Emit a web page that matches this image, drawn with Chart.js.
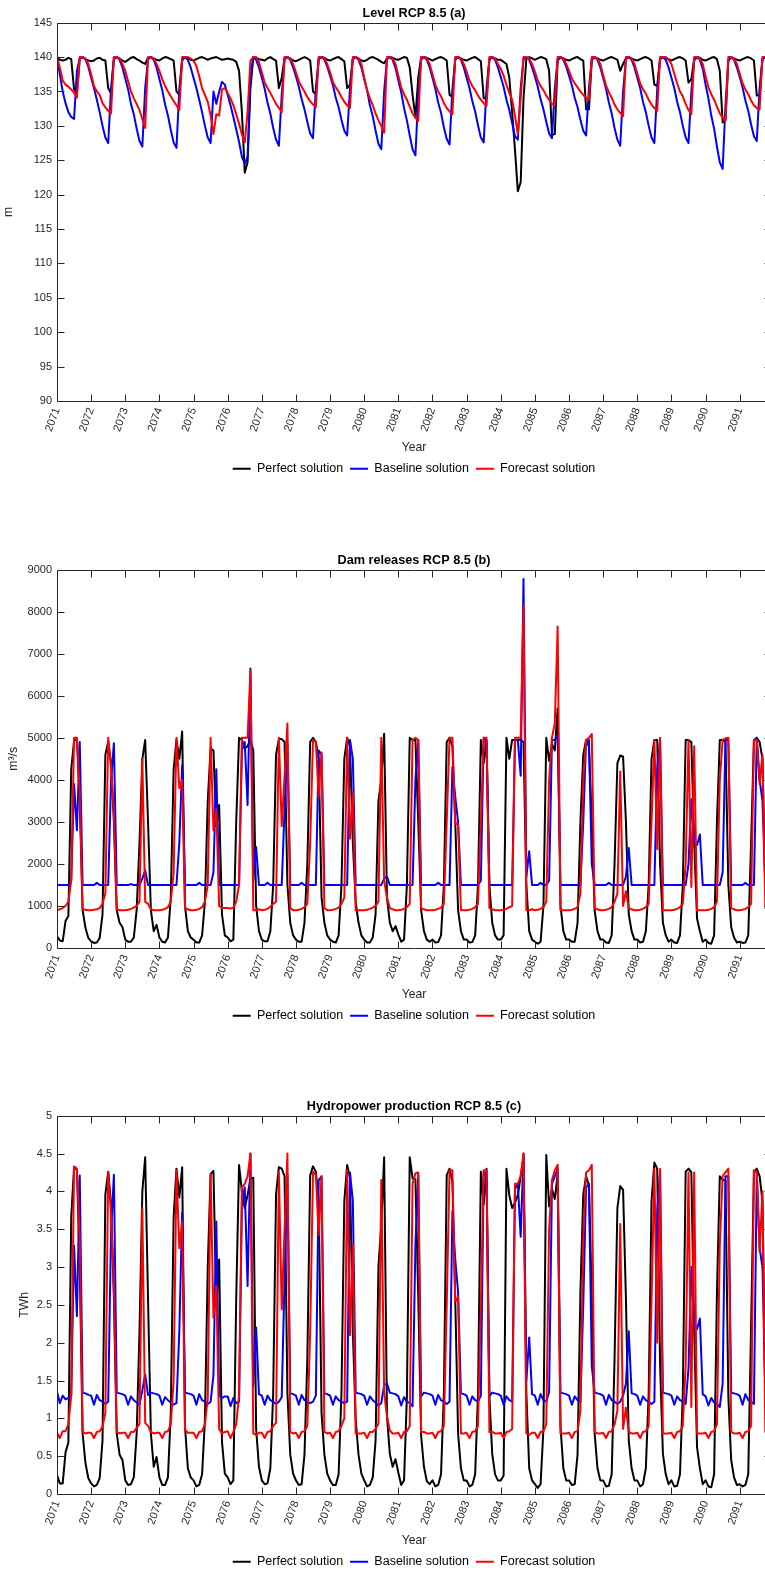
<!DOCTYPE html>
<html>
<head>
<meta charset="utf-8">
<script src="https://cdn.jsdelivr.net/npm/chart.js@4.4.0/dist/chart.umd.min.js"></script>
<style>
  html, body { margin: 0; padding: 0; background: #fff; overflow: hidden; width: 765px; height: 1570px; }
  .panel { position: absolute; left: 0; }
</style>
</head>
<body>
<div class="panel" style="top:0px"><canvas id="chartA" width="780" height="485"></canvas></div>
<div class="panel" style="top:547px"><canvas id="chartB" width="780" height="485"></canvas></div>
<div class="panel" style="top:1093px"><canvas id="chartC" width="780" height="485"></canvas></div>
<script>
// monthly values, Jan 2071 .. Dec 2091, one row per year
const years = [2071, 2072, 2073, 2074, 2075, 2076, 2077, 2078, 2079, 2080, 2081,
               2082, 2083, 2084, 2085, 2086, 2087, 2088, 2089, 2090, 2091];

// level (m)
const levelPerfect = [
  140, 139.6, 139.5, 139.6, 139.9, 139.7, 135.3, 134.8, 139.8, 140, 139.7, 139.5,
  139.4, 139.5, 139.8, 139.9, 139.6, 139.5, 135.5, 134.7, 139.9, 140, 139.8, 139.5,
  139.3, 139.6, 139.9, 140, 139.7, 139.5, 139.2, 139.0, 139.9, 140, 139.8, 139.6,
  139.5, 139.8, 140, 139.9, 139.7, 139.5, 135.0, 134.5, 139.5, 140, 139.9, 139.6,
  139.5, 139.7, 139.9, 140, 139.8, 139.6, 139.8, 139.9, 140, 139.8, 139.6, 139.7,
  139.8, 139.7, 139.6, 139.3, 138.0, 132.0, 123.2, 124.7, 135.5, 140, 139.9, 139.7,
  139.6, 139.5, 139.8, 140, 139.7, 139.5, 135.5, 137.0, 139.9, 140, 139.8, 139.5,
  139.4, 139.6, 139.8, 140, 139.8, 139.5, 135.0, 134.6, 139.8, 140, 139.9, 139.6,
  139.5, 139.7, 139.9, 140, 139.7, 139.4, 135.5, 136.0, 139.8, 140, 139.8, 139.5,
  139.4, 139.6, 139.9, 140, 139.8, 139.6, 139.3, 139.1, 139.8, 140, 139.9, 139.7,
  139.6, 139.8, 140, 139.9, 138.5, 134.5, 131.2, 137.0, 140, 140, 139.9, 139.7,
  139.5, 139.7, 139.9, 140, 139.8, 139.5, 134.5, 134.2, 139.7, 140, 139.8, 139.6,
  139.5, 139.7, 139.9, 140, 139.7, 139.4, 134.0, 134.0, 139.6, 140, 139.8, 139.6,
  139.6, 139.3, 139.0, 137.0, 132.0, 126.5, 120.5, 121.8, 134.0, 139.8, 140, 139.8,
  139.6, 139.8, 140, 139.9, 139.7, 138.0, 128.7, 128.8, 139.5, 140, 139.8, 139.6,
  139.5, 139.7, 139.9, 140, 139.7, 139.5, 132.4, 132.4, 139.6, 140, 139.8, 139.6,
  139.5, 139.7, 139.9, 140, 139.8, 139.6, 138.0, 139.0, 139.8, 140, 139.8, 139.6,
  139.5, 139.7, 139.9, 140, 139.8, 139.5, 136.0, 135.8, 139.7, 140, 139.9, 139.7,
  139.5, 139.7, 139.9, 140, 139.8, 139.5, 136.3, 136.8, 139.8, 140, 139.9, 139.6,
  139.5, 139.7, 139.9, 140, 139.7, 138.0, 130.5, 131.0, 139.5, 140, 139.8, 139.6,
  139.5, 139.7, 139.9, 140, 139.8, 139.5, 134.4, 134.5, 139.8, 140, 139.9, 139.7
];
const levelBaseline = [
  140, 137.5, 135.0, 133.3, 132.0, 131.3, 131.0, 138.0, 139.8, 140, 139.7, 138.6,
  137.0, 135.5, 133.8, 132.0, 130.0, 128.3, 127.5, 135.5, 139.7, 140, 139.6, 138.5,
  136.9, 135.3, 133.2, 131.7, 129.6, 127.8, 127.0, 135.5, 139.7, 140, 139.6, 138.5,
  136.8, 135.2, 133.1, 131.5, 129.4, 127.6, 126.8, 135.3, 139.7, 140, 139.6, 138.5,
  137.0, 135.5, 133.8, 132.0, 130.0, 128.3, 127.5, 135.0, 133.2, 135.0, 136.4, 136.0,
  134.5, 133.0, 131.3, 129.5, 127.7, 125.5, 124.5, 125.5, 137.0, 140, 139.6, 138.5,
  137.0, 135.4, 133.4, 131.8, 129.7, 128.0, 127.1, 134.5, 139.7, 140, 139.6, 138.5,
  137.2, 135.7, 133.9, 132.4, 130.6, 128.9, 128.2, 135.5, 139.7, 140, 139.6, 138.6,
  137.3, 135.9, 134.1, 132.7, 130.9, 129.3, 128.6, 135.5, 139.7, 140, 139.6, 138.5,
  136.8, 135.2, 133.0, 131.4, 129.3, 127.4, 126.6, 135.0, 139.7, 140, 139.6, 138.4,
  136.6, 134.9, 132.6, 130.8, 128.6, 126.6, 125.7, 134.5, 139.6, 140, 139.6, 138.5,
  137.0, 135.4, 133.4, 131.9, 129.8, 128.1, 127.3, 135.3, 139.7, 140, 139.6, 138.5,
  137.0, 135.5, 133.6, 132.1, 130.1, 128.3, 127.6, 135.5, 139.7, 140, 139.6, 138.5,
  137.1, 135.7, 133.8, 132.3, 130.4, 128.5, 128.0, 135.5, 139.7, 140, 139.6, 138.5,
  137.2, 135.7, 133.9, 132.4, 130.6, 128.9, 128.2, 135.5, 139.7, 140, 139.6, 138.6,
  137.3, 135.9, 134.1, 132.7, 130.9, 129.3, 128.6, 135.5, 139.7, 140, 139.6, 138.5,
  137.0, 135.4, 133.4, 131.8, 129.7, 128.0, 127.1, 135.0, 139.7, 140, 139.6, 138.5,
  137.0, 135.5, 133.5, 132.0, 130.0, 128.3, 127.5, 135.3, 139.7, 140, 139.6, 138.5,
  137.0, 135.5, 133.5, 132.0, 130.0, 128.3, 127.5, 135.0, 139.5, 140, 139.6, 138.3,
  136.0, 134.0, 131.5, 129.6, 127.0, 124.7, 123.75, 133.0, 139.5, 140, 139.6, 138.5,
  137.1, 135.6, 133.7, 132.2, 130.2, 128.5, 127.8, 135.5, 139.7, 140, 139.6, 138.5
];
const levelForecast = [
  140, 138.5, 136.6, 136.0, 135.7, 135.3, 134.8, 134.1, 140, 140, 139.8, 139.0,
  137.5, 135.8, 135.0, 134.5, 133.3, 132.7, 132.2, 131.8, 140, 140, 139.8, 139.0,
  138.0, 136.5, 135.0, 134.0, 133.2, 132.3, 131.0, 129.7, 140, 140, 139.8, 139.0,
  138.0, 136.8, 135.8, 135.0, 134.3, 133.6, 133.0, 132.3, 140, 140, 140, 139.8,
  139.5, 138.7, 137.2, 135.5, 134.5, 133.5, 131.5, 128.8, 131.7, 131.5, 135.3, 135.5,
  134.8, 134.0, 133.0, 131.7, 130.3, 128.8, 127.6, 132.0, 139.5, 140, 140, 139.3,
  137.8, 136.3, 135.5, 134.8, 134.0, 133.2, 132.6, 132.0, 140, 140, 139.8, 139.0,
  137.8, 136.5, 135.7, 135.0, 134.2, 133.6, 133.1, 132.7, 140, 140, 139.8, 139.0,
  137.8, 136.4, 135.6, 135.0, 134.2, 133.5, 133.0, 132.6, 140, 140, 139.8, 139.0,
  137.0, 135.2, 134.0, 133.0, 131.8, 130.8, 130.0, 129.0, 140, 140, 139.8, 139.0,
  137.3, 135.6, 134.6, 133.8, 132.8, 131.8, 131.2, 130.7, 140, 140, 139.8, 139.0,
  137.5, 136.0, 135.0, 134.3, 133.3, 132.6, 132.1, 131.7, 140, 140, 139.8, 139.0,
  137.9, 136.6, 135.8, 135.2, 134.4, 133.8, 133.3, 132.9, 140, 140, 139.8, 139.0,
  138.3, 137.3, 136.0, 134.8, 133.8, 131.5, 128.8, 134.0, 140, 140, 139.8, 139.0,
  137.9, 136.6, 135.8, 135.2, 134.4, 133.8, 133.2, 133.0, 140, 140, 139.8, 139.0,
  138.0, 136.9, 136.2, 135.6, 135.0, 134.5, 134.1, 133.8, 140, 140, 139.8, 139.0,
  137.4, 135.9, 134.9, 134.1, 133.1, 132.4, 131.9, 131.4, 140, 140, 139.8, 139.0,
  137.6, 136.2, 135.3, 134.7, 133.8, 133.1, 132.6, 132.2, 140, 140, 140, 139.6,
  139.0, 137.6, 136.2, 135.0, 134.3, 133.2, 132.3, 131.7, 140, 140, 139.8, 139.0,
  137.2, 135.6, 134.6, 133.8, 132.8, 131.8, 131.2, 130.7, 140, 140, 139.8, 139.0,
  137.6, 136.2, 135.3, 134.6, 133.7, 133.0, 132.6, 132.4, 140, 140, 139.8, 139.0
];

// dam releases (m3/s)
const releasePerfect = [
  280, 180, 160, 640, 760, 4250, 4930, 4970, 3500, 900, 480, 240,
  160, 120, 130, 240, 800, 4600, 4900, 4400, 3000, 900, 600, 500,
  200, 150, 150, 250, 900, 2500, 4500, 4950, 3000, 900, 400, 550,
  250, 150, 130, 250, 1200, 4250, 4950, 4500, 5150, 1000, 400, 250,
  200, 130, 130, 300, 1100, 3500, 4750, 4700, 2900, 3400, 800, 300,
  250, 160, 200, 3000, 5000, 4950, 4750, 4800, 4950, 4700, 1000, 400,
  200, 160, 160, 400, 1500, 4600, 4970, 4970, 4900, 1500, 600, 300,
  200, 150, 150, 600, 2000, 4900, 5000, 4900, 4500, 1200, 600, 300,
  200, 150, 130, 300, 1500, 4500, 5000, 4800, 2500, 1100, 600, 300,
  200, 130, 130, 250, 800, 3500, 4000, 5100, 1200, 600, 400, 520,
  320, 150, 200, 1500, 5000, 4950, 4950, 3000, 900, 400, 200, 150,
  200, 130, 140, 300, 1500, 4900, 5000, 4800, 3000, 900, 400, 200,
  200, 130, 140, 300, 1500, 4950, 4400, 4950, 1500, 600, 300, 200,
  200, 300, 5000, 4500, 4950, 4950, 4950, 4950, 4900, 1500, 400, 200,
  150, 100, 150, 1000, 5000, 4450, 4850, 4700, 5700, 1000, 400, 200,
  200, 150, 150, 600, 3000, 4600, 4950, 4800, 3000, 900, 400, 200,
  200, 130, 120, 300, 2000, 4400, 4580, 4550, 3000, 800, 400, 200,
  200, 130, 150, 400, 1500, 4500, 4950, 4950, 2000, 600, 300, 150,
  200, 130, 120, 300, 1500, 4950, 4950, 4900, 2500, 700, 400, 150,
  200, 120, 100, 300, 3000, 4950, 4950, 4900, 1500, 500, 250, 130,
  150, 120, 130, 300, 2500, 4950, 5000, 4900, 4500, 1500, 500, 250
];
const releaseBaseline = [
  1500, 1500, 1500, 1500, 1500, 1600, 3900, 2800, 4900, 1500, 1500, 1500,
  1500, 1500, 1550, 1500, 1500, 1500, 1500, 4000, 4870, 1500, 1500, 1500,
  1500, 1500, 1520, 1500, 1500, 1500, 1650, 1850, 1500, 1500, 1500, 1500,
  1500, 1500, 1500, 1500, 1500, 1500, 1500, 2500, 4350, 1500, 1500, 1500,
  1500, 1500, 1550, 1500, 1500, 1500, 1500, 1800, 4250, 1500, 1500, 1500,
  1500, 1500, 1500, 1500, 1500, 4700, 4900, 3400, 6650, 1600, 2400, 1500,
  1500, 1500, 1550, 1500, 1500, 1500, 1500, 1500, 3300, 4850, 1500, 1500,
  1500, 1500, 1550, 1500, 1500, 1500, 1500, 1500, 4700, 4600, 1500, 1500,
  1500, 1500, 1500, 1500, 1500, 1500, 1500, 4950, 4500, 1500, 1500, 1500,
  1500, 1500, 1500, 1500, 1500, 1500, 1500, 1650, 1700, 1500, 1500, 1500,
  1500, 1500, 1500, 1500, 1500, 1500, 4000, 4950, 1500, 1500, 1500, 1500,
  1500, 1500, 1550, 1500, 1500, 1500, 1500, 4300, 3600, 3000, 1500, 1500,
  1500, 1500, 1500, 1500, 1500, 1600, 5000, 4900, 1500, 1500, 1500, 1500,
  1500, 1500, 1500, 1500, 1500, 4950, 4950, 4100, 8780, 1700, 2300, 1500,
  1500, 1500, 1550, 1500, 1500, 1600, 4950, 4950, 5050, 1500, 1500, 1500,
  1500, 1500, 1500, 1500, 1500, 3000, 4950, 4950, 2000, 1500, 1500, 1500,
  1500, 1500, 1550, 1500, 1500, 1500, 1500, 1500, 1700, 2380, 1500, 1500,
  1500, 1500, 1500, 1500, 1500, 1500, 1500, 4300, 4950, 1500, 1500, 1500,
  1500, 1500, 1500, 1500, 1500, 1500, 2000, 3540, 2500, 2450, 2700, 1500,
  1500, 1500, 1500, 1500, 1500, 1500, 1800, 4950, 4950, 1500, 1500, 1500,
  1500, 1500, 1550, 1500, 1500, 1500, 5000, 4000, 3500, 1500, 1500, 1500
];
const releaseForecast = [
  900, 920, 950, 1000, 1100, 1600, 5000, 5000, 3700, 920, 910, 900,
  900, 910, 920, 950, 1050, 1300, 5000, 4300, 3200, 920, 900, 900,
  900, 910, 930, 960, 1000, 1100, 4500, 1100, 1050, 920, 900, 900,
  900, 910, 930, 970, 1100, 1800, 5000, 3800, 4000, 950, 920, 900,
  900, 910, 930, 970, 1100, 1500, 5000, 2800, 3300, 1000, 950, 950,
  950, 940, 960, 1100, 1500, 5000, 5000, 5000, 6600, 900, 900, 920,
  900, 910, 930, 980, 1050, 1100, 5000, 2900, 4100, 5340, 950, 900,
  900, 910, 930, 970, 1050, 2500, 4950, 4900, 3600, 4650, 950, 900,
  900, 910, 930, 960, 1050, 1200, 5000, 2600, 3700, 900, 900, 900,
  900, 910, 930, 960, 1000, 1100, 5000, 1600, 1200, 950, 920, 900,
  900, 910, 930, 970, 1050, 4950, 5000, 4950, 950, 920, 900, 900,
  900, 910, 930, 960, 1050, 3000, 5000, 5000, 2950, 2950, 900, 900,
  900, 910, 930, 970, 1050, 3000, 5000, 5000, 950, 920, 900, 900,
  900, 910, 930, 970, 1000, 5000, 5000, 5000, 8150, 900, 900, 920,
  900, 910, 930, 970, 1100, 4000, 5000, 5350, 7650, 900, 900, 900,
  900, 910, 930, 970, 1300, 4000, 4950, 5000, 5090, 950, 920, 900,
  900, 910, 930, 970, 1100, 1300, 4200, 1000, 1350, 950, 920, 900,
  900, 910, 930, 970, 1050, 3000, 4950, 2350, 5000, 900, 900, 900,
  900, 910, 930, 970, 1050, 2000, 4950, 1450, 4800, 900, 900, 900,
  900, 910, 930, 970, 1100, 4000, 4950, 4990, 5000, 950, 920, 900,
  900, 910, 930, 970, 1050, 4950, 4950, 3900, 4600, 950, 920, 900
];

// hydropower production (TWh)
const powerPerfect = [
  0.25, 0.14, 0.14, 0.55, 0.68, 3.66, 4.32, 4.28, 3.0, 0.8, 0.41, 0.21,
  0.14, 0.1, 0.12, 0.21, 0.71, 3.96, 4.26, 3.83, 2.58, 0.8, 0.52, 0.45,
  0.18, 0.12, 0.13, 0.22, 0.8, 2.15, 4.0, 4.45, 2.58, 0.8, 0.36, 0.49,
  0.22, 0.12, 0.12, 0.22, 1.07, 3.66, 4.3, 3.92, 4.32, 0.89, 0.34, 0.22,
  0.18, 0.1, 0.12, 0.26, 0.98, 3.01, 4.23, 4.27, 2.49, 3.1, 0.69, 0.27,
  0.22, 0.13, 0.18, 2.58, 4.35, 4.0, 3.78, 3.95, 4.16, 4.18, 0.86, 0.36,
  0.18, 0.13, 0.14, 0.34, 1.33, 3.96, 4.32, 4.3, 4.2, 1.33, 0.52, 0.27,
  0.18, 0.12, 0.13, 0.52, 1.78, 4.21, 4.33, 4.26, 3.87, 1.07, 0.52, 0.27,
  0.18, 0.12, 0.12, 0.26, 1.33, 3.87, 4.35, 4.18, 2.15, 0.98, 0.52, 0.27,
  0.18, 0.1, 0.12, 0.22, 0.71, 3.01, 3.56, 4.45, 1.03, 0.53, 0.36, 0.46,
  0.28, 0.12, 0.18, 1.29, 4.45, 4.17, 4.16, 2.6, 0.77, 0.36, 0.17, 0.13,
  0.18, 0.1, 0.12, 0.26, 1.33, 4.21, 4.3, 4.13, 2.58, 0.8, 0.34, 0.18,
  0.18, 0.1, 0.12, 0.26, 1.33, 4.26, 3.83, 4.3, 1.29, 0.53, 0.26, 0.18,
  0.18, 0.24, 4.3, 3.95, 3.78, 3.85, 3.95, 4.2, 4.45, 1.33, 0.34, 0.18,
  0.13, 0.08, 0.13, 0.86, 4.48, 3.8, 4.03, 3.9, 4.22, 0.89, 0.34, 0.18,
  0.18, 0.12, 0.13, 0.52, 2.67, 3.96, 4.2, 4.08, 2.58, 0.8, 0.34, 0.18,
  0.18, 0.1, 0.11, 0.26, 1.78, 3.78, 4.07, 4.02, 2.58, 0.71, 0.34, 0.18,
  0.18, 0.1, 0.13, 0.34, 1.33, 3.87, 4.38, 4.3, 1.72, 0.53, 0.26, 0.13,
  0.18, 0.1, 0.11, 0.26, 1.33, 4.26, 4.3, 4.25, 2.15, 0.62, 0.34, 0.13,
  0.18, 0.1, 0.09, 0.26, 2.67, 4.2, 4.15, 4.15, 1.29, 0.45, 0.22, 0.12,
  0.13, 0.1, 0.12, 0.26, 2.22, 4.26, 4.3, 4.2, 3.87, 1.33, 0.43, 0.22
];
const powerBaseline = [
  1.35, 1.2, 1.3, 1.25, 1.27, 1.3, 3.28, 2.35, 4.21, 1.34, 1.33, 1.31,
  1.3, 1.18, 1.31, 1.24, 1.22, 1.19, 1.22, 3.48, 4.22, 1.34, 1.33, 1.32,
  1.3, 1.18, 1.29, 1.24, 1.21, 1.18, 1.37, 1.58, 1.31, 1.34, 1.33, 1.32,
  1.3, 1.18, 1.28, 1.24, 1.21, 1.18, 1.2, 2.15, 3.72, 1.34, 1.33, 1.32,
  1.3, 1.18, 1.32, 1.24, 1.22, 1.19, 1.22, 1.57, 3.6, 1.3, 1.27, 1.29,
  1.29, 1.16, 1.27, 1.2, 1.22, 3.85, 4.05, 2.75, 4.5, 1.42, 2.2, 1.32,
  1.3, 1.18, 1.3, 1.24, 1.22, 1.19, 1.22, 1.28, 2.85, 4.22, 1.33, 1.32,
  1.3, 1.18, 1.31, 1.24, 1.22, 1.2, 1.22, 1.3, 4.15, 4.2, 1.33, 1.32,
  1.3, 1.18, 1.29, 1.24, 1.22, 1.2, 1.22, 4.25, 3.87, 1.34, 1.33, 1.32,
  1.3, 1.18, 1.29, 1.24, 1.21, 1.17, 1.2, 1.44, 1.46, 1.34, 1.33, 1.32,
  1.29, 1.17, 1.28, 1.22, 1.2, 1.16, 3.3, 4.22, 1.29, 1.34, 1.33, 1.32,
  1.3, 1.18, 1.31, 1.24, 1.22, 1.19, 1.22, 3.74, 3.1, 2.67, 1.33, 1.32,
  1.3, 1.18, 1.29, 1.24, 1.22, 1.3, 4.25, 4.2, 1.29, 1.34, 1.33, 1.32,
  1.3, 1.18, 1.29, 1.24, 1.22, 4.03, 4.1, 3.4, 4.5, 1.5, 2.07, 1.32,
  1.3, 1.18, 1.32, 1.24, 1.22, 1.35, 4.1, 4.2, 4.3, 1.34, 1.33, 1.32,
  1.3, 1.18, 1.29, 1.24, 1.22, 2.5, 4.05, 4.1, 1.69, 1.34, 1.33, 1.32,
  1.3, 1.18, 1.31, 1.24, 1.22, 1.19, 1.22, 1.3, 1.46, 2.15, 1.33, 1.32,
  1.3, 1.18, 1.29, 1.24, 1.22, 1.19, 1.22, 3.74, 4.26, 1.34, 1.33, 1.32,
  1.3, 1.18, 1.29, 1.24, 1.22, 1.19, 1.66, 3.0, 2.2, 2.18, 2.32, 1.32,
  1.29, 1.17, 1.27, 1.21, 1.19, 1.15, 1.46, 4.2, 4.2, 1.34, 1.33, 1.32,
  1.3, 1.18, 1.32, 1.24, 1.22, 1.19, 4.25, 3.25, 3.0, 1.34, 1.33, 1.32
];
const powerForecast = [
  0.81, 0.74, 0.83, 0.83, 0.92, 1.3, 4.33, 4.3, 3.35, 0.82, 0.8, 0.81,
  0.81, 0.74, 0.82, 0.83, 0.89, 1.07, 4.26, 3.7, 2.75, 0.82, 0.8, 0.81,
  0.81, 0.74, 0.82, 0.82, 0.87, 0.93, 3.78, 0.94, 0.9, 0.82, 0.8, 0.81,
  0.81, 0.74, 0.82, 0.83, 0.92, 1.5, 4.28, 3.25, 3.6, 0.85, 0.81, 0.81,
  0.81, 0.74, 0.82, 0.83, 0.92, 1.27, 4.22, 2.33, 2.75, 0.86, 0.8, 0.82,
  0.83, 0.74, 0.82, 0.92, 1.3, 4.05, 4.1, 4.2, 4.5, 0.8, 0.78, 0.81,
  0.81, 0.74, 0.82, 0.83, 0.9, 0.94, 4.25, 2.44, 3.5, 4.5, 0.82, 0.8,
  0.81, 0.74, 0.82, 0.83, 0.9, 2.13, 4.26, 4.22, 3.42, 4.2, 0.82, 0.8,
  0.81, 0.74, 0.82, 0.83, 0.9, 1.0, 4.28, 2.1, 3.3, 0.8, 0.8, 0.8,
  0.81, 0.74, 0.82, 0.82, 0.86, 0.93, 4.15, 1.35, 1.03, 0.84, 0.8, 0.8,
  0.81, 0.74, 0.82, 0.83, 0.9, 4.1, 4.24, 4.25, 0.82, 0.82, 0.8, 0.8,
  0.81, 0.74, 0.82, 0.83, 0.9, 2.5, 4.28, 4.28, 2.54, 2.6, 0.8, 0.8,
  0.81, 0.74, 0.82, 0.83, 0.9, 2.5, 4.28, 4.28, 0.82, 0.82, 0.8, 0.8,
  0.81, 0.74, 0.82, 0.83, 0.86, 4.1, 4.1, 4.2, 4.5, 0.8, 0.78, 0.81,
  0.81, 0.74, 0.82, 0.83, 0.92, 3.5, 4.15, 4.28, 4.35, 0.8, 0.8, 0.8,
  0.81, 0.74, 0.82, 0.83, 1.1, 3.4, 4.25, 4.28, 4.35, 0.82, 0.8, 0.8,
  0.81, 0.74, 0.82, 0.83, 0.92, 1.1, 3.57, 0.86, 1.14, 0.82, 0.8, 0.8,
  0.81, 0.74, 0.82, 0.83, 0.9, 2.55, 4.3, 2.0, 4.3, 0.8, 0.8, 0.8,
  0.81, 0.74, 0.82, 0.83, 0.9, 1.7, 4.25, 1.15, 4.25, 0.8, 0.8, 0.8,
  0.81, 0.74, 0.82, 0.83, 0.92, 3.3, 4.2, 4.25, 4.3, 0.82, 0.8, 0.8,
  0.81, 0.74, 0.82, 0.83, 0.9, 4.28, 4.25, 3.2, 4.0, 0.82, 0.8, 0.8
];

const seriesNames = ['Perfect solution', 'Baseline solution', 'Forecast solution'];
const seriesColors = ['#000000', '#0000ff', '#ff0000'];

const FONT = "'Liberation Sans', Arial, Helvetica, sans-serif";
const AXIS = '#262626';
Chart.defaults.font.family = FONT;
Chart.defaults.font.size = 11;

// MATLAB-like box with inward ticks on all four sides
const boxTicks = {
  id: 'boxTicks',
  afterDraw(chart) {
    const { ctx, chartArea: a, scales: { x, y } } = chart;
    const L = Math.round(a.left) + 0.5, R = Math.round(a.right) + 0.5;
    const T = Math.round(a.top) + 0.5, B = Math.round(a.bottom) + 0.5;
    const len = 7;
    ctx.save();
    ctx.strokeStyle = AXIS;
    ctx.lineWidth = 1;
    ctx.beginPath();
    ctx.rect(L, T, R - L, B - T);
    x.ticks.forEach(t => {
      const px = Math.round(x.getPixelForValue(t.value)) + 0.5;
      ctx.moveTo(px, B); ctx.lineTo(px, B - len);
      ctx.moveTo(px, T); ctx.lineTo(px, T + len);
    });
    y.ticks.forEach(t => {
      const py = Math.round(y.getPixelForValue(t.value)) + 0.5;
      ctx.moveTo(L, py); ctx.lineTo(L + len, py);
      ctx.moveTo(R, py); ctx.lineTo(R - len, py);
    });
    ctx.stroke();
    ctx.restore();
  }
};

function makeChart(id, title, yTitle, yMin, yMax, yStep, yTitlePad, series) {
  const datasets = series.map((vals, k) => ({
    label: seriesNames[k],
    data: vals.map((v, i) => ({ x: i, y: v })),
    borderColor: seriesColors[k],
    backgroundColor: seriesColors[k],
    borderWidth: 2,
    borderJoinStyle: 'round',
    pointRadius: 0,
    tension: 0,
    fill: false,
    order: 3 - k
  }));

  new Chart(document.getElementById(id), {
    type: 'line',
    data: { datasets },
    plugins: [boxTicks],
    options: {
      responsive: false,
      animation: false,
      events: [],
      devicePixelRatio: 1,
      layout: { padding: { left: 0, right: 9, top: 0, bottom: 0 } },
      plugins: {
        title: {
          display: true, text: title, color: '#000', fullSize: false,
          font: { size: 12.7, weight: 'bold' },
          padding: { top: 5.6, bottom: 1.86 }
        },
        legend: {
          position: 'bottom', fullSize: false,
          labels: {
            usePointStyle: true, pointStyle: 'line', pointStyleWidth: 18,
            color: '#000', padding: 7, font: { size: 12.5 },
            sort: (a, b) => a.datasetIndex - b.datasetIndex
          }
        },
        tooltip: { enabled: false }
      },
      scales: {
        x: {
          type: 'linear', min: 0, max: 251,
          afterBuildTicks: s => { s.ticks = years.map((yr, i) => ({ value: i * 12 })); },
          afterFit: s => { s.height = 54.5; },
          grid: { display: false, drawTicks: false }, border: { display: false },
          ticks: {
            autoSkip: false, minRotation: 70, maxRotation: 70, padding: 5,
            color: AXIS, font: { size: 11 },
            callback: (v, i) => String(years[i])
          },
          title: { display: true, text: 'Year', color: AXIS, font: { size: 12.2 }, padding: { top: 0, bottom: 1 } }
        },
        y: {
          min: yMin, max: yMax,
          afterFit: s => { s.width = 57; },
          grid: { display: false, drawTicks: false }, border: { display: false },
          ticks: { stepSize: yStep, padding: 5, color: AXIS, font: { size: 11 }, callback: v => String(v) },
          title: { display: true, text: yTitle, color: AXIS, font: { size: 12.2 }, padding: { top: yTitlePad, bottom: 0 } }
        }
      }
    }
  });
}

makeChart('chartA', 'Level RCP 8.5 (a)', 'm', 90, 145, 5, 1.5,
  [levelPerfect, levelBaseline, levelForecast]);
makeChart('chartB', 'Dam releases RCP 8.5 (b)', 'm³/s', 0, 9000, 1000, 6.5,
  [releasePerfect, releaseBaseline, releaseForecast]);
makeChart('chartC', 'Hydropower production RCP 8.5 (c)', 'TWh', 0, 5, 0.5, 17.5,
  [powerPerfect, powerBaseline, powerForecast]);
</script>
</body>
</html>
